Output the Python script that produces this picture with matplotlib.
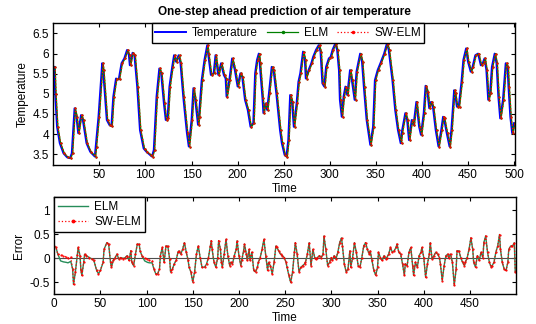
import numpy as np
import matplotlib
matplotlib.use('Agg')
import matplotlib.pyplot as plt
from matplotlib.ticker import FixedLocator, FuncFormatter

plt.rcParams['font.family'] = ['Liberation Sans', 'DejaVu Sans']
plt.rcParams['axes.unicode_minus'] = False
fontsize = 8.5

# temperature readings (time step, value)
temp_t = [1, 2, 4, 7, 11, 15, 18, 20, 23, 25, 27, 30, 32, 36, 40, 45, 46, 49, 53, 54,
          58, 61, 63, 65, 68, 71, 74, 77, 80, 82, 83, 86, 88, 91, 94, 98, 101, 105, 107, 109,
          112, 115, 117, 120, 122, 124, 126, 129, 131, 133, 136, 138, 141, 145, 147, 150, 152, 154, 157, 158,
          161, 164, 167, 168, 171, 174, 176, 179, 182, 185, 187, 188, 191, 194, 197, 200, 203, 205, 208, 211,
          214, 217, 219, 221, 223, 224, 227, 228, 230, 232, 234, 237, 239, 242, 246, 248, 251, 253, 255, 257,
          259, 261, 264, 266, 268, 271, 273, 274, 277, 280, 282, 285, 288, 290, 292, 294, 296, 299, 301, 303,
          306, 308, 310, 311, 313, 315, 317, 319, 322, 324, 327, 329, 333, 335, 337, 340, 344, 347, 349, 352,
          355, 359, 362, 364, 368, 371, 374, 377, 378, 382, 384, 386, 389, 391, 394, 397, 399, 402, 404, 406,
          408, 410, 412, 415, 418, 421, 423, 424, 427, 430, 432, 435, 436, 438, 440, 443, 445, 448, 450, 453,
          455, 458, 461, 464, 466, 468, 470, 472, 474, 476, 479, 481, 483, 485, 488, 491, 493, 494, 496, 498,
          500]
temp = [5.67, 5.0, 4.18, 3.77, 3.52, 3.42, 3.40, 3.52, 4.64, 4.43, 4.02, 4.47, 4.35, 3.77, 3.56, 3.44, 3.69, 4.43, 5.76, 5.59,
        4.35, 4.22, 4.20, 4.92, 5.38, 5.36, 5.76, 5.88, 6.09, 5.96, 5.71, 6.02, 5.96, 5.18, 4.10, 3.64, 3.56, 3.48, 3.44, 3.60,
        4.93, 5.63, 5.51, 4.76, 4.35, 4.39, 5.18, 5.67, 5.96, 5.80, 5.96, 5.76, 4.93, 4.02, 3.69, 4.35, 5.14, 4.85, 4.23, 4.43,
        5.34, 5.84, 6.21, 6.0, 5.47, 5.51, 5.96, 5.47, 5.76, 5.47, 5.38, 4.93, 5.34, 5.88, 5.59, 5.18, 5.51, 5.42, 4.85, 4.60,
        4.18, 4.27, 5.51, 5.84, 6.0, 5.76, 4.89, 4.52, 4.76, 4.60, 5.01, 5.67, 5.59, 5.01, 4.10, 3.77, 3.48, 3.44, 3.85, 4.97,
        4.80, 4.18, 4.76, 5.30, 5.51, 6.05, 5.84, 5.38, 5.59, 5.76, 5.92, 6.09, 6.21, 6.05, 5.26, 5.18, 5.67, 5.88, 5.92, 6.09,
        6.25, 6.09, 5.59, 4.85, 4.43, 4.93, 5.18, 4.97, 5.59, 5.34, 4.85, 5.55, 6.0, 5.80, 5.18, 4.35, 3.73, 4.18, 5.34, 5.59,
        5.76, 6.0, 6.25, 6.09, 5.34, 4.60, 4.10, 3.77, 4.02, 4.52, 4.35, 3.85, 4.35, 4.23, 4.80, 4.18, 3.98, 4.52, 5.20, 5.05,
        4.64, 4.80, 4.68, 4.10, 3.69, 4.10, 4.43, 4.39, 4.02, 3.69, 4.10, 5.09, 5.01, 4.68, 4.68, 5.30, 5.84, 6.13, 5.80, 5.55,
        5.67, 5.96, 6.0, 5.71, 5.76, 5.88, 5.59, 4.85, 5.01, 5.67, 6.0, 5.76, 4.93, 4.39, 4.85, 5.76, 5.67, 5.18, 4.43, 4.02,
        4.27]

# one-step-ahead predictions follow the measured curve one step later
pred_lag = 1

# prediction error readings (time step, value)
err_t = [0, 2, 4, 7, 10, 13, 15, 18, 20, 21, 23, 25, 26, 28, 29, 30, 32, 33, 35, 38,
         41, 43, 46, 48, 50, 53, 54, 57, 59, 61, 62, 64, 66, 68, 70, 72, 75, 77, 79, 81,
         83, 84, 86, 88, 90, 92, 93, 95, 98, 101, 103, 106, 108, 110, 112, 114, 115, 117, 119, 121,
         123, 125, 126, 128, 130, 132, 134, 135, 137, 139, 141, 143, 145, 146, 148, 150, 152, 154, 156, 158,
         160, 163, 165, 167, 169, 170, 171, 173, 175, 177, 178, 180, 181, 182, 184, 186, 188, 190, 191, 193,
         195, 197, 198, 200, 202, 203, 205, 206, 208, 209, 211, 212, 214, 216, 218, 220, 221, 223, 225, 227,
         229, 231, 232, 234, 236, 238, 240, 241, 243, 245, 247, 249, 251, 252, 254, 256, 258, 260, 261, 263,
         265, 267, 269, 271, 272, 274, 276, 278, 280, 282, 283, 285, 287, 289, 291, 292, 294, 296, 298, 300,
         301, 303, 305, 307, 309, 311, 312, 314, 316, 318, 320, 321, 323, 325, 327, 329, 331, 333, 335, 337,
         339, 341, 342, 344, 346, 348, 350, 351, 353, 355, 357, 359, 360, 362, 364, 366, 368, 370, 371, 373,
         375, 377, 379, 380, 382, 384, 386, 388, 389, 391, 393, 395, 397, 398, 400, 402, 404, 406, 407, 409,
         411, 413, 415, 417, 418, 420, 422, 424, 426, 427, 429, 431, 433, 435, 436, 438, 440, 442, 444, 445,
         447, 449, 451, 453, 454, 456, 458, 460, 462, 464, 465, 467, 469, 471, 473, 474, 476, 478, 480, 482,
         483, 485, 487, 489, 491, 492, 494, 496, 498, 499]
err_swelm = [0.25, 0.22, 0.08, 0.07, 0.05, 0.02, 0.0, 0.02, -0.23, -0.55, -0.29, 0.06, 0.22, 0.05, -0.26, -0.36, -0.09, 0.08, 0.05, 0.01,
             -0.02, -0.05, -0.26, -0.33, -0.26, -0.09, 0.18, 0.32, 0.29, -0.09, -0.19, -0.05, 0.01, 0.08, -0.02, 0.01, -0.01, 0.01, 0.05, -0.05,
             0.15, -0.09, -0.16, 0.08, 0.29, 0.29, 0.15, 0.05, 0.0, -0.02, -0.05, -0.06, -0.23, -0.33, -0.33, -0.23, 0.05, 0.22, -0.09, 0.25,
             0.25, -0.02, -0.29, -0.23, -0.12, -0.05, 0.12, 0.15, 0.08, 0.18, 0.32, 0.12, -0.05, -0.19, -0.29, -0.50, -0.29, 0.08, 0.25, 0.01,
             -0.19, -0.19, -0.12, 0.01, 0.25, 0.36, 0.18, -0.09, -0.19, 0.01, 0.36, 0.18, -0.09, -0.19, 0.08, 0.39, 0.05, -0.16, -0.09, -0.12,
             0.05, 0.18, 0.36, 0.05, -0.16, -0.05, 0.15, 0.29, 0.08, -0.05, 0.18, -0.05, 0.12, -0.26, -0.29, -0.19, -0.09, 0.01, 0.18, 0.39,
             0.05, -0.26, -0.09, -0.16, -0.33, -0.09, 0.25, 0.22, 0.15, 0.08, 0.05, 0.01, -0.09, -0.19, -0.36, -0.51, -0.29, 0.12, 0.32, 0.08,
             -0.29, -0.19, -0.16, -0.12, -0.09, 0.08, 0.32, -0.16, 0.18, 0.01, -0.02, 0.01, 0.05, 0.01, 0.08, 0.46, 0.18, -0.16, -0.09, 0.01,
             -0.05, 0.05, -0.02, 0.12, 0.32, 0.42, 0.25, -0.12, -0.29, -0.23, 0.15, -0.19, 0.01, 0.32, 0.12, -0.16, -0.19, 0.01, 0.25, 0.32,
             0.18, 0.08, 0.15, -0.05, -0.26, -0.36, -0.19, 0.12, 0.01, -0.05, 0.05, -0.02, 0.01, 0.08, 0.22, 0.12, 0.15, 0.22, 0.29, 0.12,
             0.08, -0.12, -0.36, -0.12, -0.16, 0.12, 0.22, -0.16, -0.36, -0.09, -0.19, 0.05, 0.12, 0.22, 0.01, -0.40, -0.12, 0.08, 0.32, -0.02,
             0.05, 0.12, 0.08, 0.01, -0.12, -0.47, -0.16, 0.05, 0.08, 0.01, 0.08, -0.09, -0.57, -0.23, 0.15, 0.15, 0.01, -0.09, -0.16, -0.09,
             0.01, 0.18, 0.42, 0.18, -0.09, -0.19, 0.05, -0.05, 0.12, 0.01, 0.32, 0.46, 0.12, -0.09, -0.19, -0.16, -0.09, 0.12, 0.25, 0.49,
             0.18, -0.09, -0.23, -0.26, -0.09, 0.18, 0.25, 0.25, 0.32, -0.29]
# ELM error is the same except where the two traces part
err_elm = list(err_swelm)
elm_diff = {7: -0.06, 10: -0.08, 13: -0.09, 15: -0.10, 18: -0.07,
            98: -0.06, 101: -0.09, 103: -0.10, 106: -0.10}
for k, v in elm_diff.items():
    err_elm[err_t.index(k)] = v

fig = plt.figure(figsize=(5.36, 3.24), dpi=100)
ax1 = fig.add_axes([0.0995, 0.4907, 0.862, 0.437])
ax2 = fig.add_axes([0.101, 0.0926, 0.862, 0.299])

t_pred = np.array(temp_t) + pred_lag
l1, = ax1.plot(temp_t, temp, color='blue', lw=1.4)
l2, = ax1.plot(t_pred, temp, color=(0, 0.5, 0), lw=0.9, marker='.', ms=1.2)
l3, = ax1.plot(t_pred, temp, color='red', lw=0.9, ls=':', marker='.', ms=1.2)

ax1.set_xlim(0, 501.5)
ax1.set_ylim(3.23, 6.75)
ax1.xaxis.set_major_locator(FixedLocator(np.arange(50, 501, 50)))
ax1.yaxis.set_major_locator(FixedLocator(np.arange(3.5, 6.51, 0.5)))
ax1.set_title('One-step ahead prediction of air temperature', fontsize=fontsize, fontweight='bold', pad=6)
ax1.set_xlabel('Time', fontsize=fontsize, labelpad=1)
ax1.set_ylabel('Temperature', fontsize=fontsize, labelpad=3)
leg1 = ax1.legend((l1, l2, l3), ('Temperature', 'ELM', 'SW-ELM'), ncol=3, loc='upper center',
                  bbox_to_anchor=(0.508, 1.0), borderaxespad=0, fontsize=fontsize,
                  fancybox=False, framealpha=1, edgecolor='black', handlelength=2.6,
                  columnspacing=0.8, handletextpad=0.5, borderpad=0.3)
leg1.get_frame().set_linewidth(1.0)
for h in leg1.legend_handles[1:]:
    h.set_markersize(3)

ax2.axhline(0, color='0.3', lw=0.8)
e1, = ax2.plot(err_t, err_elm, color=(0.15, 0.55, 0.35), lw=1.0)
e2, = ax2.plot(err_t, err_swelm, color='red', lw=0.9, ls=':', marker='.', ms=1.2)
ax2.set_xlim(0, 500)
ax2.set_ylim(-0.75, 1.27)
ax2.xaxis.set_major_locator(FixedLocator(np.arange(0, 451, 50)))
ax2.yaxis.set_major_locator(FixedLocator([-0.5, 0, 0.5, 1]))
ax2.set_xlabel('Time', fontsize=fontsize, labelpad=1)
ax2.set_ylabel('Error', fontsize=fontsize, labelpad=3)
leg2 = ax2.legend((e1, e2), ('ELM', 'SW-ELM'), loc='upper left', borderaxespad=0,
                  fontsize=fontsize, fancybox=False, framealpha=1, edgecolor='black',
                  handlelength=2.6, handletextpad=0.5, borderpad=0.3, labelspacing=0.3)
leg2.get_frame().set_linewidth(1.0)
leg2.legend_handles[1].set_markersize(3.5)

fmt = FuncFormatter(lambda v, p: '%g' % v)
for ax in (ax1, ax2):
    ax.yaxis.set_major_formatter(fmt)
    ax.tick_params(direction='in', length=3, width=0.8, labelsize=fontsize,
                   top=True, right=True, pad=3)
    for s in ax.spines.values():
        s.set_linewidth(1.0)

plt.savefig('out.png', dpi=100)
